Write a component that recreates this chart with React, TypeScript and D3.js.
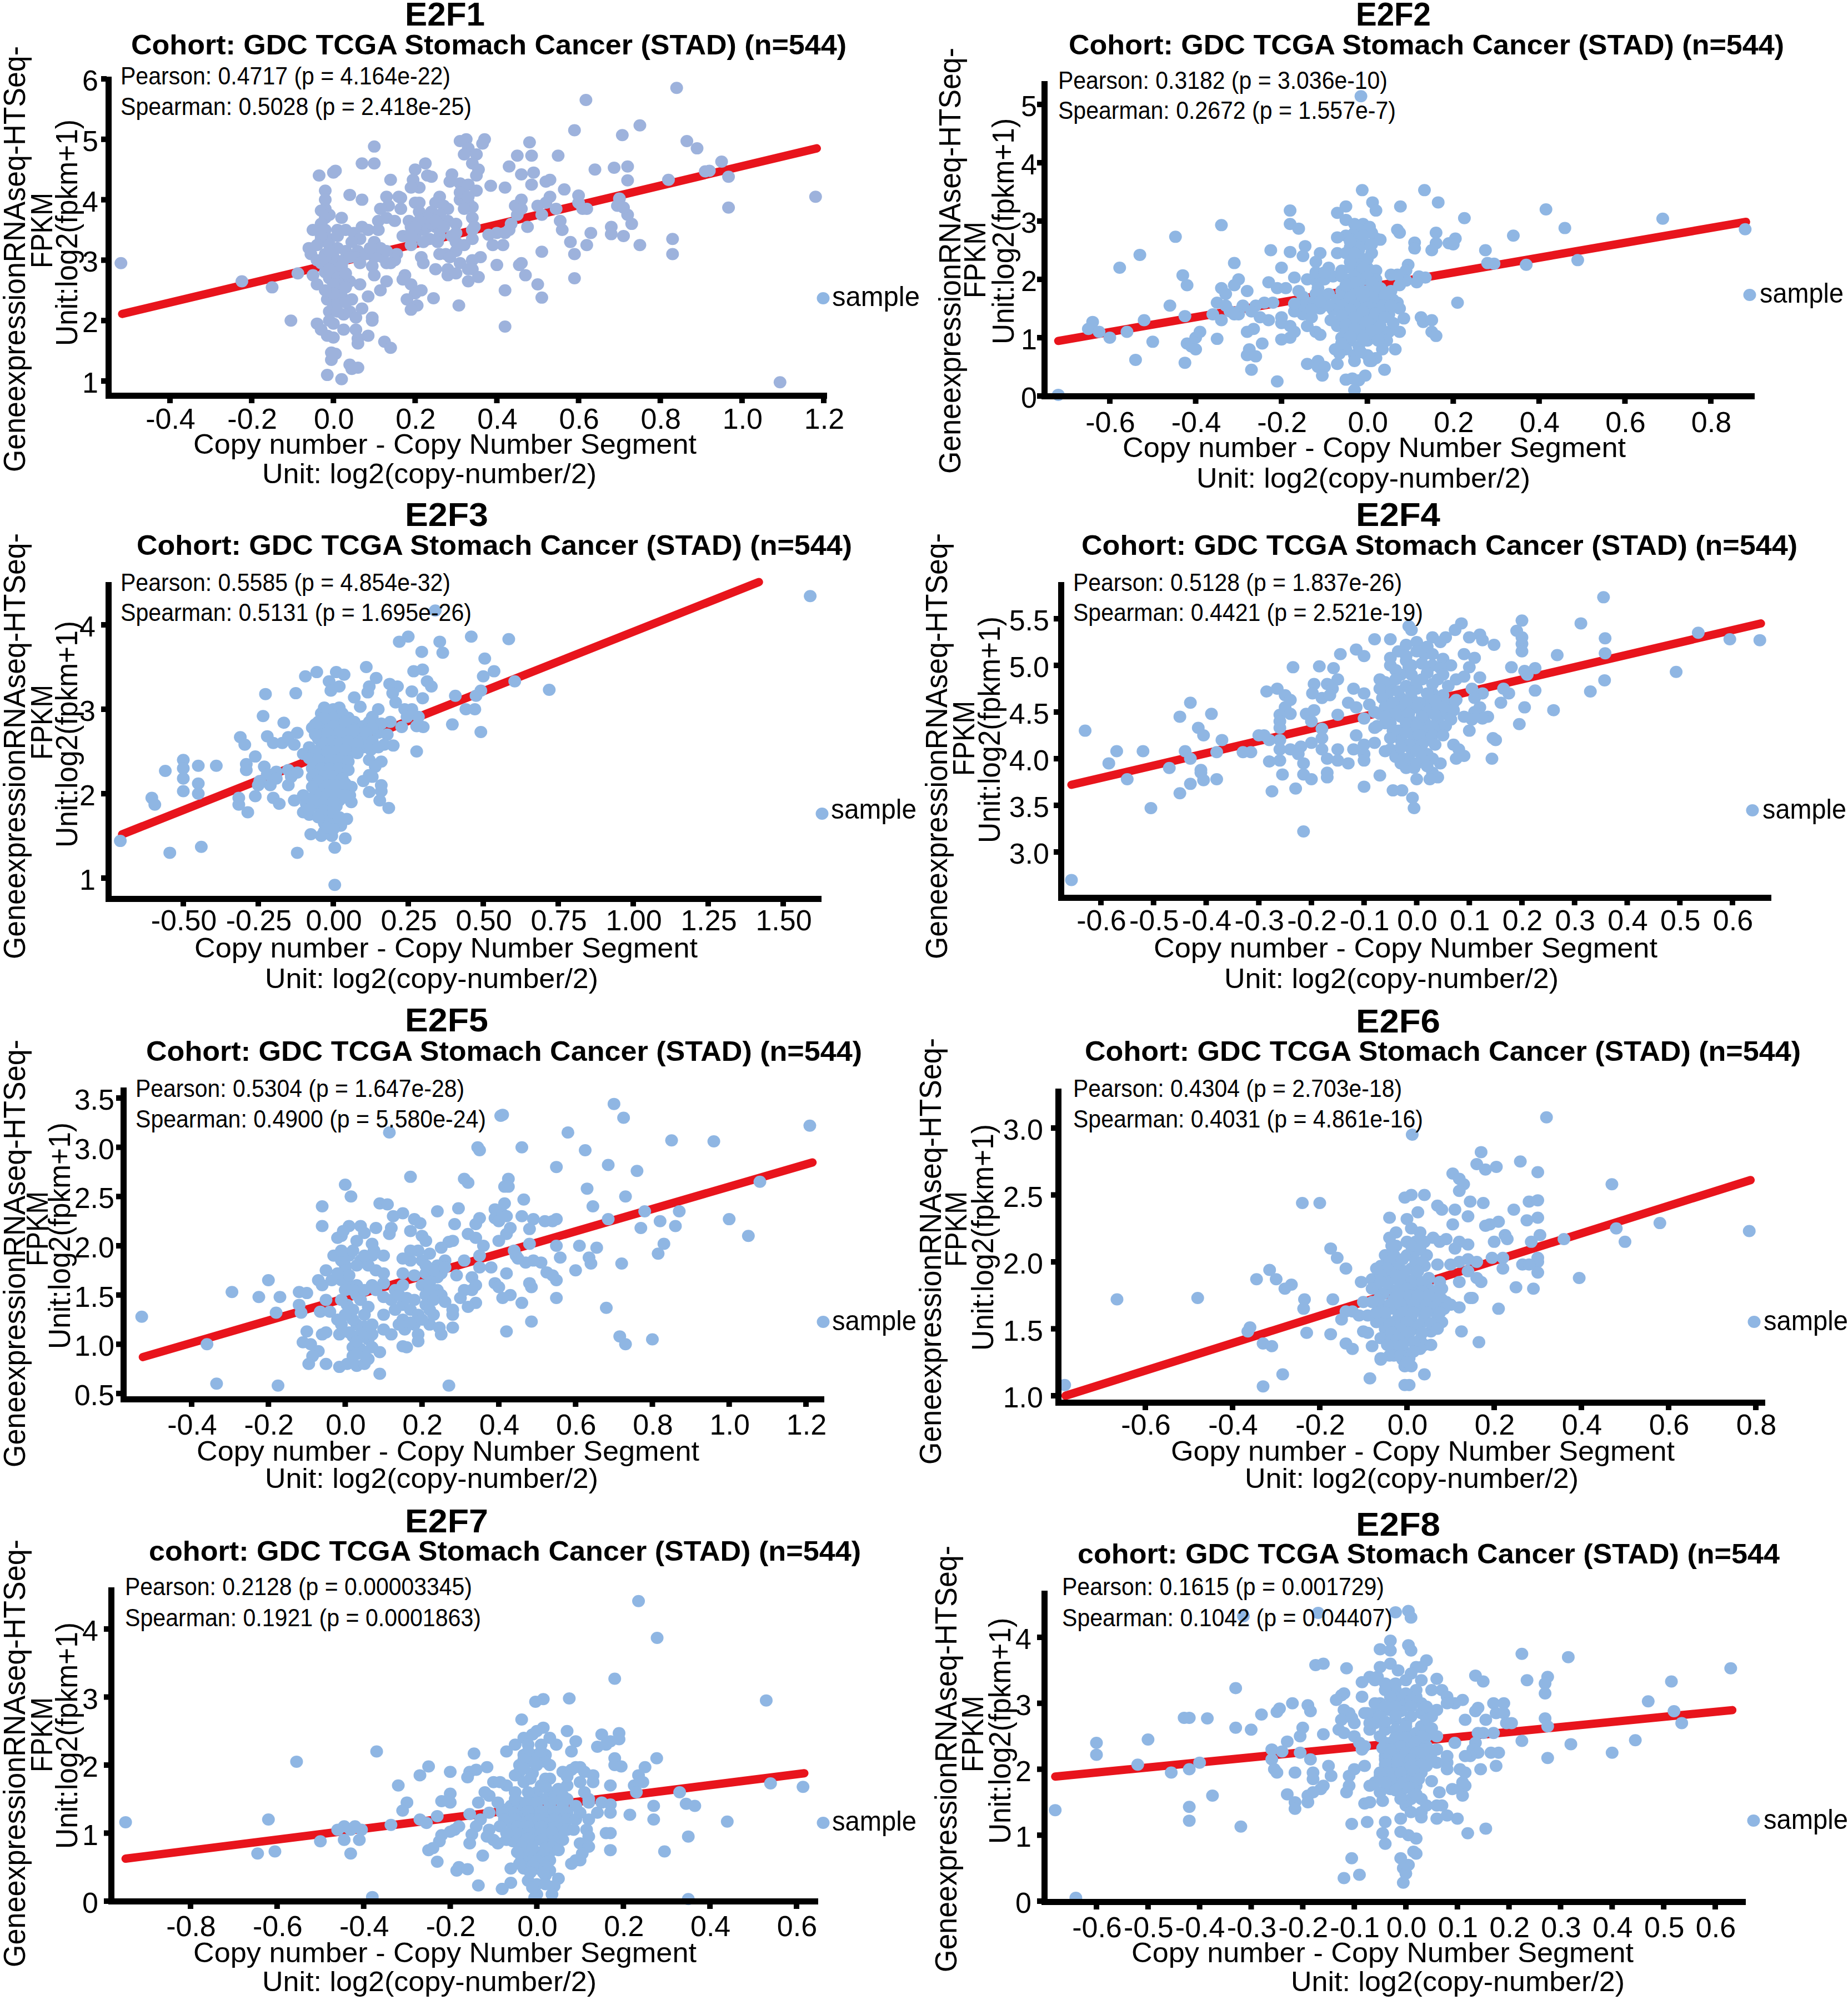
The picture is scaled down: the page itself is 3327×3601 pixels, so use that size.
import React from "react";
import * as d3 from "d3";

type Pt = number[];

const e2f1Points: Pt[] = [[-0.52,2.95],[-0.224,2.65],[-0.15,2.55],[-0.104,2.0],[-0.087,2.78],[1.093,0.98],[1.18,4.05],[0.84,5.85],[0.618,5.65],[0.59,5.15],[0.75,5.23],[0.707,5.07],[0.865,4.97],[0.89,4.85],[0.95,4.63],[0.92,4.48],[0.91,4.47],[0.967,4.38],[0.967,3.87],[0.82,4.33],[0.83,3.35],[0.83,3.1],[0.75,3.25],[0.73,3.6],[0.72,3.75],[0.70,4.02],[0.695,3.9],[0.71,3.87],[0.687,4.53],[0.71,3.4],[0.68,3.55],[0.68,3.43],[0.72,4.32],[0.72,4.55],[0.64,4.5],[0.62,3.85],[0.62,3.25],[0.63,3.45],[0.59,3.1],[0.59,2.7],[0.58,3.3],[0.56,3.5],[0.555,3.65],[0.565,4.17],[0.60,4.07],[0.60,3.95],[0.61,3.85],[0.55,4.73],[0.53,4.33],[0.52,4.3],[0.53,4.05],[0.545,3.85],[0.52,3.95],[0.51,3.75],[0.50,3.9],[0.51,3.14],[0.51,2.38],[0.50,2.6],[0.47,2.75],[0.46,2.95],[0.48,4.95],[0.485,4.73],[0.45,4.73],[0.43,4.55],[0.46,4.42],[0.49,4.45],[0.485,4.25],[0.42,4.2],[0.385,4.23],[0.46,4.0],[0.445,3.9],[0.46,3.85],[0.45,3.75],[0.435,3.6],[0.475,3.55],[0.43,3.5],[0.42,3.45],[0.40,3.45],[0.38,3.42],[0.415,3.25],[0.39,3.25],[0.36,3.05],[0.34,3.0],[0.40,2.92],[0.455,2.92],[0.31,4.97],[0.325,5.0],[0.37,5.0],[0.365,4.93],[0.33,4.85],[0.32,4.75],[0.35,4.75],[0.34,4.6],[0.355,4.5],[0.35,4.4],[0.29,4.42],[0.285,4.3],[0.31,4.27],[0.33,4.25],[0.35,4.15],[0.32,4.08],[0.31,4.0],[0.33,3.95],[0.34,3.88],[0.34,3.7],[0.345,3.55],[0.34,3.5],[0.2,4.5],[0.225,4.6],[0.195,4.33],[0.23,4.4],[0.24,4.38],[0.21,4.2],[0.19,4.2],[0.14,4.33],[0.13,4.05],[0.16,4.05],[0.165,4.03],[0.135,3.9],[0.165,3.85],[0.115,3.85],[0.11,3.65],[0.13,3.7],[0.15,3.65],[0.2,3.95],[0.21,3.95],[0.21,3.8],[0.26,4.05],[0.25,3.95],[0.27,3.9],[0.24,3.8],[0.23,3.7],[0.28,3.85],[0.22,3.6],[0.185,3.65],[0.19,3.55],[0.17,3.4],[0.18,3.4],[0.2,3.4],[0.25,3.55],[0.28,3.65],[0.3,3.6],[0.29,3.4],[0.26,3.4],[0.255,3.3],[0.22,3.5],[0.235,3.35],[0.3,3.3],[0.3,3.15],[0.32,3.25],[0.275,3.1],[0.26,3.1],[0.285,3.05],[0.31,2.95],[0.33,2.85],[0.34,2.85],[0.28,2.85],[0.28,2.75],[0.25,2.85],[0.3,2.78],[0.33,2.65],[0.355,2.72],[0.215,3.05],[0.22,2.95],[0.19,3.25],[0.155,3.1],[0.15,3.0],[0.14,2.95],[0.13,2.95],[0.12,3.05],[0.1,3.05],[0.095,2.9],[0.1,2.75],[0.13,2.65],[0.115,2.5],[0.085,2.4],[0.175,2.75],[0.17,2.68],[0.19,2.6],[0.2,2.45],[0.215,2.5],[0.18,2.35],[0.205,2.25],[0.19,2.18],[0.245,2.37],[0.307,2.25],[0.42,1.9],[0.42,2.5],[0.095,2.05],[0,4.45],[0.005,4.48],[-0.035,4.4],[-0.02,4.15],[0.04,4.08],[0.07,4.6],[0.1,4.6],[0.1,4.88],[0.07,4.0],[-0.02,4.0],[-0.02,3.85],[-0.03,3.82],[-0.01,3.75],[-0.02,3.7],[0.02,3.7],[-0.03,3.6],[-0.05,3.5],[-0.02,3.5],[-0.01,3.35],[-0.03,3.35],[0.01,3.5],[0.03,3.5],[0.05,3.45],[0.065,3.35],[0.07,3.55],[0.085,3.5],[0.11,3.5],[0.1,3.3],[0.115,3.2],[0.13,3.15],[-0.06,3.2],[-0.055,3.1],[-0.04,3.0],[-0.02,3.1],[-0.03,2.95],[0,3.05],[0.03,3.15],[0.06,3.15],[0.025,3.0],[0.055,3.05],[0.065,2.95],[-0.02,2.8],[-0.05,2.75],[-0.04,2.6],[-0.01,2.7],[0.01,2.75],[0.02,2.6],[0.04,2.65],[0.065,2.6],[0.01,2.5],[0.02,2.4],[-0.015,2.35],[0,2.25],[-0.01,2.15],[0.01,2.3],[0.045,2.35],[0.04,2.15],[0.025,2.1],[0.07,2.2],[0.055,2.05],[0.095,2.0],[0.0,1.95],[-0.04,1.95],[-0.03,1.85],[0.025,1.85],[0.055,1.85],[-0.015,1.75],[0,1.72],[0.06,1.7],[0.06,1.62],[0.085,1.75],[0.125,1.65],[0.14,1.55],[-0.005,1.47],[0.005,1.45],[-0.005,1.35],[0.04,1.27],[0.045,1.2],[0.06,1.22],[-0.015,1.1],[0.02,1.03],
[-0.03,3.4],[-0.01,3.25],[0.01,3.2],[-0.02,3.0],[0.0,2.9],[-0.01,3.15],[0.02,2.9],[0.045,3.3],[-0.04,3.25],[0.01,3.4],[0.04,3.05],[0.08,3.1],[0.09,3.2],[0.0,2.6],[0.0,2.45],[0.03,2.55],[0.03,2.3],[-0.02,2.5],[-0.01,2.0],[0.01,2.15],[0.22,3.3],[0.23,3.55],[0.21,3.65],[0.2,3.55],[0.24,3.6],[0.27,3.55],[0.26,3.75],[0.25,3.65],[0.19,3.4],[0.3,3.45],[0.32,3.85],[0.31,4.12],[0.33,4.05],[0.34,3.35],[-0.01,2.85],[0.03,2.78]];

const e2f2Points: Pt[] = [[-0.72,0.02],[-0.015,5.14],[-0.012,3.53],[0.133,3.53],[0.165,3.32],[0.012,3.32],[-0.05,3.25],[0.02,3.18],[0.077,3.25],[-0.07,3.14],[-0.18,3.18],[-0.05,3.02],[-0.18,2.95],[-0.16,2.87],[-0.34,2.93],[-0.447,2.73],[-0.53,2.42],[-0.577,2.2],[0.226,3.05],[0.416,3.2],[0.688,3.04],[0.46,2.88],[0.34,2.75],[0.88,2.86],[0.49,2.33],[0.37,2.25],[0.295,2.27],[0.28,2.28],[0.275,2.5],[0.21,1.6],[0.07,2.85],[0.075,2.8],[0.16,2.8],[0.16,2.62],[0.19,2.62],[0.205,2.7],[0.2,2.6],[0.11,2.63],[0.11,2.53],[0.15,2.5],[0.095,2.25],[0.09,2.15],[0.12,2.05],[0.135,2.03],[0.115,1.95],[0.09,1.98],[0.07,2.08],[0.055,2.08],[0.02,2.15],[0.075,1.9],[0.03,1.85],[0.055,1.8],[0.06,1.65],[0.07,1.6],[0.075,1.5],[0.04,1.5],[0.05,1.4],[0.085,1.33],[0.125,1.35],[0.13,1.27],[0.15,1.3],[0.15,1.1],[0.16,1.03],[0.075,1.1],[0.05,1.1],[0.03,1.05],[0.02,1.05],[0.06,1.25],[0.045,0.95],[0.035,0.8],[0.065,0.8],[0.02,0.65],[0.01,0.6],[0.04,0.45],[-0.01,2.95],[0.005,2.9],[-0.03,2.8],[-0.02,2.85],[0.01,2.8],[-0.05,2.75],[-0.07,2.72],[0.02,2.7],[0.03,2.68],[0.0,2.6],[-0.02,2.65],[-0.04,2.55],[-0.07,2.45],[-0.05,2.45],[-0.02,2.5],[0.01,2.45],[-0.01,2.35],[-0.03,2.35],[-0.02,2.25],[0,2.2],[-0.04,2.2],[-0.06,2.15],[-0.09,2.1],[-0.1,2.0],[-0.08,2.05],[-0.05,2.0],[-0.02,2.1],[-0.01,2.0],[0.02,2.0],[0.015,1.9],[-0.02,1.85],[-0.04,1.85],[-0.06,1.8],[-0.09,1.75],[-0.06,1.7],[-0.03,1.75],[0,1.8],[0.01,1.7],[-0.03,1.6],[0.01,1.6],[0.03,1.65],[-0.05,1.55],[-0.02,1.5],[0.02,1.5],[-0.05,1.45],[-0.02,1.4],[0.01,1.35],[-0.02,1.3],[0.02,1.3],[-0.04,1.3],[-0.06,1.25],[-0.085,1.3],[-0.07,1.2],[-0.02,1.2],[0,1.15],[-0.05,1.1],[-0.06,1.0],[-0.02,1.05],[0.0,0.95],[-0.04,0.95],[-0.02,0.85],[-0.05,0.8],[-0.075,0.8],[-0.065,0.73],[-0.03,0.7],[0,0.7],[0.005,0.6],[-0.03,0.6],[-0.035,0.3],[-0.05,0.28],[-0.02,0.27],[-0.005,0.35],[-0.03,0.1],[-0.07,0.55],[-0.2,2.2],[-0.225,2.5],[-0.18,2.47],[-0.145,2.57],[-0.15,2.4],[-0.11,2.45],[-0.12,2.3],[-0.09,2.2],[-0.06,2.05],[-0.17,2.03],[-0.14,2.0],[-0.12,1.98],[-0.115,1.85],[-0.23,1.95],[-0.21,1.85],[-0.19,1.85],[-0.16,1.8],[-0.15,1.7],[-0.13,1.6],[-0.115,1.65],[-0.11,1.5],[-0.14,1.5],[-0.17,1.45],[-0.15,1.4],[-0.13,1.35],[-0.2,1.35],[-0.2,1.25],[-0.18,1.2],[-0.14,1.2],[-0.12,1.1],[-0.11,1.05],[-0.17,1.1],[-0.18,1.0],[-0.2,0.97],[-0.22,1.6],[-0.24,1.6],[-0.26,1.55],[-0.27,1.45],[-0.29,1.55],[-0.3,1.45],[-0.25,1.35],[-0.23,1.3],[-0.265,1.15],[-0.28,1.1],[-0.245,0.9],[-0.275,0.8],[-0.28,0.7],[-0.27,0.45],[-0.26,0.68],[-0.21,0.25],[-0.14,0.55],[-0.115,0.6],[-0.115,0.5],[-0.1,0.5],[-0.105,0.35],[-0.43,2.07],[-0.42,1.9],[-0.31,2.28],[-0.3,2.0],[-0.31,1.9],[-0.34,1.85],[-0.28,1.8],[-0.33,1.75],[-0.35,1.6],[-0.3,1.4],[-0.33,1.55],[-0.32,1.45],[-0.36,1.4],[-0.34,1.3],[-0.31,1.4],[-0.46,1.55],[-0.425,1.37],[-0.52,1.3],[-0.64,1.27],[-0.65,1.15],[-0.625,1.1],[-0.6,1.0],[-0.56,1.1],[-0.5,0.93],[-0.42,0.9],[-0.41,0.85],[-0.4,1.0],[-0.39,1.1],[-0.35,0.98],[-0.4,0.8],[-0.54,0.62],[-0.425,0.57],
[-0.03,2.95],[-0.04,2.65],[-0.01,2.75],[0.01,2.6],[-0.03,2.45],[0.0,2.35],[-0.04,2.3],[-0.01,2.18],[-0.03,2.05],[0.0,2.05],[0.01,1.95],[-0.03,1.95],[-0.05,1.9],[-0.02,1.78],[0.02,1.8],[-0.07,1.65],[-0.04,1.68],[-0.01,1.63],[0.02,1.7],[0.04,1.72],[-0.06,1.55],[-0.03,1.55],[0.0,1.52],[0.035,1.55],[0.055,1.55],[-0.08,1.48],[-0.04,1.48],[-0.01,1.45],[0.02,1.42],[0.04,1.35],[-0.06,1.38],[-0.03,1.35],[0.0,1.28],[0.03,1.2],[-0.05,1.22],[-0.03,1.15],[0.01,1.12],[-0.04,1.02],[-0.01,0.98],[0.025,0.95],[-0.06,0.9],[-0.015,0.75],[-0.1,1.7],[-0.12,1.75],[-0.09,1.55],[-0.11,1.62],[-0.12,2.12],[-0.1,2.12],[-0.15,1.55],[-0.17,1.58],[-0.13,1.48]];

const e2f3Points: Pt[] = [[1.59,4.34],[0.34,4.17],[0.25,3.86],[0.22,3.8],[0.355,3.8],[0.46,3.86],[0.585,3.83],[0.295,3.68],[0.365,3.67],[0.505,3.6],[0.536,3.45],[0.268,3.45],[0.298,3.47],[0.5,3.39],[0.605,3.33],[0.72,3.23],[0.492,3.22],[0.476,3.16],[0.407,3.16],[0.313,3.33],[0.327,3.27],[0.298,3.13],[0.262,3.21],[0.442,3.0],[0.472,3.0],[0.397,2.82],[0.492,2.73],[0.278,2.5],[0.3,2.79],[0.278,2.8],[0.284,2.91],[0.262,3.0],[0.238,3.0],[0.246,2.91],[0.228,2.79],[0.11,3.5],[0.143,3.37],[0.188,3.3],[0.214,3.27],[0.198,3.19],[0.208,3.08],[0.12,3.27],[0.115,3.2],[0.07,3.14],[0.09,3.03],[0.15,3.0],[0.13,2.91],[0.19,2.85],[0.16,2.83],[-0.055,3.44],[-0.093,3.39],[0.01,3.44],[0.036,3.41],[-0.014,3.33],[0.02,3.27],[-0.008,3.22],[-0.125,3.19],[-0.226,3.18],[-0.234,2.92],[-0.165,2.84],[-0.12,2.72],[0.0,3.0],[-0.03,3.02],[0.02,3.02],[-0.04,2.95],[-0.01,2.95],[0.02,2.9],[0.05,2.9],[-0.05,2.85],[-0.02,2.85],[0.01,2.85],[0.07,2.85],[-0.07,2.78],[-0.04,2.75],[-0.01,2.78],[0.03,2.78],[0.06,2.78],[0.1,2.8],[0.12,2.85],[0.15,2.72],[0.18,2.7],[-0.05,2.65],[-0.02,2.65],[0.01,2.68],[0.04,2.68],[0.08,2.68],[0.11,2.65],[0.17,2.58],[0.2,2.57],[-0.08,2.55],[-0.04,2.55],[-0.01,2.55],[0.03,2.58],[0.06,2.58],[0.1,2.55],[0.125,2.52],[-0.1,2.47],[-0.07,2.45],[-0.03,2.45],[0.0,2.45],[0.03,2.45],[0.05,2.47],[-0.06,2.35],[-0.03,2.35],[0.0,2.35],[0.04,2.35],[-0.05,2.25],[-0.02,2.25],[0.01,2.25],[0.03,2.25],[-0.07,2.2],[-0.04,2.12],[-0.01,2.15],[0.02,2.15],[-0.06,2.05],[-0.03,2.05],[0.0,2.05],[0.03,2.05],[0.055,1.98],[0.06,1.9],[-0.1,1.98],[-0.07,1.95],[-0.04,1.95],[-0.01,1.95],[0.02,1.92],[-0.09,1.88],[-0.05,1.85],[-0.02,1.85],[0.01,1.85],[-0.1,1.78],[-0.08,1.75],[-0.04,1.78],[-0.02,1.75],[-0.03,1.65],[-0.01,1.65],[0.01,1.68],[0.045,1.7],[0.025,1.62],[-0.03,1.55],[-0.075,1.52],[-0.04,1.5],[-0.005,1.5],[0.04,1.47],[0.005,1.36],[-0.12,1.3],[0.005,0.92],[0.12,2.4],[0.16,2.38],[0.14,2.32],[0.12,2.22],[0.13,2.2],[0.1,2.15],[0.16,2.1],[0.16,2.03],[0.12,2.02],[0.155,1.92],[0.185,1.83],[0.06,2.08],[-0.31,2.67],[-0.295,2.58],[-0.22,2.68],[-0.2,2.6],[-0.17,2.6],[-0.15,2.67],[-0.13,2.58],[-0.26,2.44],[-0.29,2.35],[-0.29,2.28],[-0.23,2.32],[-0.22,2.23],[-0.19,2.26],[-0.19,2.18],[-0.15,2.28],[-0.14,2.2],[-0.12,2.25],[-0.21,2.1],[-0.15,2.1],[-0.245,2.15],[-0.25,2.1],[-0.26,1.97],[-0.2,1.95],[-0.18,1.88],[-0.13,1.92],[-0.315,1.95],[-0.315,1.87],[-0.285,1.78],[-0.45,2.33],[-0.39,2.33],[-0.5,2.4],[-0.5,2.3],[-0.56,2.27],[-0.5,2.18],[-0.45,2.12],[-0.5,2.03],[-0.45,2.0],[-0.605,1.95],[-0.595,1.87],[-0.71,1.44],[-0.545,1.3],[-0.44,1.37],
[-0.02,2.98],[0.03,2.95],[0.0,2.9],[-0.03,2.9],[0.04,2.85],[-0.06,2.82],[0.0,2.8],[-0.02,2.72],[0.02,2.72],[0.05,2.72],[-0.06,2.7],[-0.03,2.6],[0.0,2.62],[0.02,2.6],[0.05,2.62],[0.08,2.6],[-0.06,2.5],[-0.02,2.5],[0.01,2.5],[0.04,2.52],[0.08,2.48],[-0.08,2.42],[-0.05,2.4],[-0.01,2.4],[0.02,2.4],[0.05,2.38],[-0.07,2.3],[-0.04,2.3],[-0.01,2.3],[0.02,2.3],[0.05,2.28],[-0.06,2.22],[-0.03,2.2],[0.0,2.2],[0.03,2.18],[-0.05,2.15],[-0.02,2.1],[0.01,2.1],[0.04,2.12],[-0.07,2.08],[-0.04,2.0],[-0.02,2.0],[0.01,2.0],[0.04,1.98],[-0.06,1.92],[-0.03,1.9],[0.0,1.9],[-0.08,1.82],[-0.03,1.8],[0.0,1.78],[-0.05,1.72],[0.02,1.72],[-0.02,1.6],[0.0,1.58],[0.09,2.72],[0.13,2.78],[0.07,2.75],[0.11,2.72],[0.13,2.62],[0.15,2.55]];

const e2f4Points: Pt[] = [[-0.656,2.7],[-0.63,4.3],[-0.505,3.47],[-0.215,3.22],[0.355,5.73],[0.535,5.35],[0.595,5.28],[0.652,5.27],[0.493,4.93],[0.358,5.29],[0.358,5.13],[0.357,4.84],[0.33,4.72],[0.312,5.45],[0.267,5.11],[0.26,4.52],[0.2,5.48],[0.19,5.37],[0.2,5.23],[0.2,5.15],[0.2,5.3],[0.205,4.94],[0.21,4.9],[0.225,4.97],[0.225,4.73],[0.18,4.98],[0.165,4.75],[0.175,4.7],[0.16,4.6],[0.205,4.55],[0.195,4.37],[0.12,5.33],[0.1,5.3],[0.085,5.45],[0.073,5.38],[0.055,5.3],[0.125,5.27],[0.147,5.22],[0.09,5.12],[0.11,5.08],[0.05,5.07],[0.065,5.0],[0.1,4.98],[0.09,4.88],[0.12,4.87],[0.075,4.85],[0.105,4.75],[0.125,4.7],[0.11,4.65],[0.075,4.63],[0.12,4.55],[0.11,4.5],[0.09,4.45],[0.135,4.45],[0.105,4.42],[0.125,4.43],[0.1,4.3],[0.145,4.22],[0.15,4.2],[0.143,4.0],[0.07,4.15],[0.08,4.1],[0.09,4.03],[0.075,4.0],[0.045,3.95],[0.03,3.85],[0.04,3.8],[0.025,3.78],[-0.015,5.42],[-0.01,5.38],[0.03,5.3],[0.0,5.25],[-0.02,5.22],[0.02,5.2],[0.045,5.25],[-0.035,5.15],[0.015,5.12],[-0.05,5.0],[-0.02,5.05],[-0.015,4.98],[0.03,5.0],[0.045,4.97],[-0.07,4.85],[-0.03,4.9],[0.01,4.85],[0.04,4.85],[-0.05,4.78],[-0.02,4.78],[0.0,4.75],[0.03,4.7],[-0.055,4.7],[-0.03,4.65],[-0.01,4.65],[0.02,4.6],[0.05,4.68],[0.07,4.6],[-0.04,4.55],[-0.015,4.55],[0.01,4.5],[0.03,4.55],[0.055,4.48],[-0.05,4.45],[-0.03,4.45],[-0.01,4.4],[0.015,4.4],[0.04,4.4],[-0.06,4.38],[-0.035,4.3],[-0.01,4.3],[0.02,4.3],[0.04,4.3],[-0.03,4.2],[-0.005,4.2],[0.02,4.2],[-0.01,4.1],[0.02,4.05],[-0.05,4.1],[-0.06,4.08],[-0.04,4.02],[-0.015,4.0],[0.01,4.0],[-0.02,3.9],[-0.005,3.9],[0.0,3.78],[-0.045,3.66],[-0.028,3.66],[-0.008,3.58],[-0.005,3.47],[-0.08,5.28],[-0.05,5.28],[-0.115,5.17],[-0.145,5.12],[-0.1,5.1],[-0.235,4.98],[-0.185,4.99],[-0.158,4.97],[-0.15,4.85],[-0.17,4.8],[-0.16,4.75],[-0.195,4.8],[-0.198,4.7],[-0.265,4.75],[-0.285,4.72],[-0.25,4.68],[-0.24,4.63],[-0.18,4.65],[-0.165,4.68],[-0.12,4.75],[-0.1,4.7],[-0.13,4.6],[-0.115,4.55],[-0.09,4.58],[-0.25,4.55],[-0.26,4.47],[-0.24,4.48],[-0.21,4.48],[-0.195,4.52],[-0.2,4.4],[-0.15,4.47],[-0.1,4.43],[-0.18,4.32],[-0.26,4.4],[-0.26,4.33],[-0.29,4.25],[-0.26,4.2],[-0.28,4.2],[-0.08,4.33],[-0.115,4.25],[-0.1,4.15],[-0.08,4.17],[-0.2,4.17],[-0.18,4.22],[-0.22,4.13],[-0.24,4.1],[-0.26,4.1],[-0.225,4.05],[-0.18,4.1],[-0.15,4.1],[-0.12,4.1],[-0.1,4.05],[-0.17,4.0],[-0.15,3.98],[-0.26,3.98],[-0.28,3.97],[-0.1,3.98],[-0.13,3.95],[-0.215,3.95],[-0.255,3.83],[-0.215,3.83],[-0.17,3.85],[-0.17,3.8],[-0.07,3.82],[-0.1,3.7],[-0.2,3.78],[-0.275,3.65],[-0.23,3.68],[-0.43,4.6],[-0.45,4.45],[-0.39,4.48],[-0.415,4.33],[-0.405,4.25],[-0.37,4.2],[-0.44,4.08],[-0.43,4.0],[-0.38,4.07],[-0.57,4.08],[-0.52,4.08],[-0.585,3.95],[-0.47,3.9],[-0.41,3.88],[-0.41,3.85],[-0.55,3.78],[-0.405,3.77],[-0.38,3.78],[-0.43,3.73],[-0.45,3.63],[-0.33,4.07],[-0.315,4.07],[-0.3,4.25],
[-0.02,5.1],[0.0,5.15],[0.03,5.12],[-0.05,5.08],[-0.01,5.0],[0.01,5.02],[-0.04,4.95],[-0.01,4.9],[0.02,4.92],[0.05,4.9],[-0.06,4.82],[-0.04,4.85],[0.0,4.82],[0.03,4.8],[0.06,4.78],[-0.07,4.75],[-0.035,4.72],[-0.01,4.72],[0.02,4.7],[0.05,4.62],[-0.065,4.65],[-0.045,4.6],[-0.02,4.6],[0.005,4.6],[0.035,4.62],[-0.06,4.55],[-0.03,4.52],[0.0,4.55],[0.02,4.5],[0.05,4.55],[0.07,4.52],[-0.07,4.48],[-0.04,4.48],[-0.015,4.48],[0.01,4.45],[0.035,4.47],[0.065,4.42],[-0.05,4.38],[-0.02,4.38],[0.0,4.35],[0.03,4.35],[0.055,4.35],[-0.045,4.3],[-0.02,4.28],[0.005,4.25],[0.03,4.25],[0.05,4.25],[-0.05,4.22],[-0.015,4.15],[0.01,4.15],[0.035,4.15],[-0.03,4.12],[0.0,4.08],[0.03,4.0],[-0.025,4.0],[-0.03,3.95],[0.0,3.95],[0.02,3.92],[-0.06,4.45],[-0.075,4.35],[-0.08,4.5]];

const e2f5Points: Pt[] = [[-0.53,1.28],[-0.36,1.0],[-0.335,0.6],[-0.175,0.58],[0.27,0.58],[0.09,0.7],[0.7,3.44],[0.725,3.3],[0.405,3.32],[0.41,3.33],[0.115,3.15],[0.58,3.15],[0.85,3.07],[0.96,3.06],[1.21,3.22],[0.345,3.0],[0.35,2.97],[0.46,3.0],[0.625,2.97],[0.55,2.8],[0.685,2.82],[0.76,2.76],[1.08,2.65],[0.17,2.7],[0.31,2.68],[0.32,2.64],[0.425,2.68],[0.415,2.6],[0.425,2.6],[0.63,2.58],[0.73,2.5],[0.645,2.4],[0.465,2.47],[0.415,2.43],[0.0,2.62],[0.015,2.5],[0.09,2.43],[0.11,2.42],[-0.06,2.4],[-0.06,2.2],[0.24,2.35],[0.295,2.38],[0.15,2.33],[0.125,2.3],[0.39,2.37],[0.35,2.28],[0.34,2.22],[0.285,2.22],[0.18,2.27],[0.195,2.23],[0.12,2.18],[0.115,2.12],[0.17,2.15],[0.2,2.1],[0.21,2.05],[0.28,2.05],[0.27,2.04],[0.32,2.12],[0.34,2.08],[0.36,2.0],[0.39,2.28],[0.4,2.25],[0.41,2.32],[0.42,2.3],[0.46,2.3],[0.49,2.27],[0.48,2.17],[0.43,2.18],[0.42,2.12],[0.4,2.05],[0.48,2.02],[0.54,2.25],[0.55,2.27],[0.52,2.25],[0.685,2.27],[0.77,2.18],[0.78,2.35],[0.82,2.25],[0.87,2.35],[0.86,2.2],[1.0,2.27],[1.05,2.1],[0.83,2.02],[0.815,1.92],[0.61,2.0],[0.655,1.98],[0.55,2.0],[0.56,1.88],[0.635,1.88],[0.64,1.82],[0.72,1.82],[0.6,1.75],[0.525,1.73],[0.51,1.83],[0.49,1.85],[0.47,1.83],[0.45,1.87],[0.445,1.9],[0.44,1.95],[0.55,1.65],[0.54,1.7],[0.48,1.62],[0.485,1.58],[0.46,1.42],[0.55,1.47],[0.485,1.23],[0.68,1.37],[0.42,1.13],[0.715,1.08],[0.73,1.0],[0.8,1.05],[0.42,1.72],[0.39,1.62],[0.4,1.58],[0.43,1.5],[0.41,1.47],[0.35,1.78],[0.38,1.78],[0.33,1.68],[0.34,1.6],[0.29,1.7],[0.33,1.55],[0.31,1.55],[0.3,1.47],[0.34,1.42],[0.32,1.38],[0.35,1.9],[0.31,1.85],[0.25,1.98],[0.22,1.92],[0.26,1.85],[0.24,1.8],[0.2,1.85],[0.17,1.85],[0.15,1.87],[0.1,1.9],[0.075,1.95],[0.07,1.9],[0.04,2.2],[0.05,2.13],[0.08,2.18],[0.07,2.02],[0.03,2.05],[0.04,1.85],[-0.03,1.9],[-0.01,2.1],[-0.02,2.08],[0.01,2.2],[-0.005,2.15],[-0.01,1.85],[0.0,1.8],[0.03,1.8],[0.06,1.8],[-0.05,1.75],[-0.07,1.65],[-0.06,1.6],[-0.035,1.65],[-0.01,1.65],[0.01,1.6],[0.03,1.6],[0.07,1.6],[0.1,1.62],[0.13,1.55],[0.15,1.6],[0.15,1.72],[0.18,1.7],[0.21,1.72],[0.22,1.63],[0.24,1.68],[0.24,1.55],[0.21,1.5],[0.25,1.5],[0.26,1.43],[0.28,1.3],[0.28,1.35],[-0.2,1.65],[-0.295,1.53],[-0.225,1.48],[-0.17,1.48],[-0.12,1.53],[-0.1,1.52],[-0.12,1.4],[-0.115,1.32],[-0.18,1.32],[-0.05,1.45],[-0.065,1.33],[-0.04,1.33],[0.0,1.55],[0.005,1.4],[0.02,1.35],[0.04,1.45],[0.06,1.38],[0.1,1.48],[0.12,1.45],[0.13,1.35],[0.1,1.3],[0.15,1.4],[0.17,1.35],[0.15,1.25],[0.21,1.4],[0.19,1.3],[0.18,1.2],[0.23,1.3],[0.22,1.2],[0.245,1.17],[0.25,1.1],[0.28,1.17],[0.19,1.1],[0.155,1.15],[0.19,1.03],[0.12,1.1],[0.1,1.15],[0.07,1.2],[0.05,1.18],[0.03,1.2],[-0.01,1.2],[-0.015,1.1],[-0.05,1.12],[-0.06,1.1],[-0.1,1.13],[-0.11,1.02],[-0.09,1.0],[0.02,1.08],[0.06,1.05],[0.02,0.97],[0.04,0.95],[0.07,0.97],[0.09,0.92],[0.15,0.98],[0.16,0.97],[-0.07,0.93],[-0.085,0.88],[-0.095,0.8],[-0.05,0.8],[-0.015,0.77],[0.005,0.8],[0.03,0.78],[0.05,0.8],[0.06,0.85],[0.02,0.88],
[0.0,1.75],[0.01,1.7],[-0.02,1.72],[0.02,1.55],[-0.01,1.45],[0.03,1.5],[0.05,1.55],[0.08,1.55],[0.02,1.25],[0.01,1.12],[0.05,1.3],[0.04,1.1],[0.07,1.1],[0.03,1.03],[0.14,1.5],[0.16,1.47],[0.18,1.45],[0.2,1.6],[0.22,1.55],[0.23,1.45],[0.17,1.22],[0.14,1.2],[0.2,1.25],[0.22,1.35],[0.25,1.72],[0.23,1.75],[0.26,1.78],[0.21,1.8],[0.19,1.95],[0.17,1.95],[0.0,1.3],[-0.02,1.25],[0.05,0.9],[0.03,0.9],[0.01,1.9],[0.02,1.95],[0.05,1.9],[-0.01,1.95],[0.08,1.75],[0.1,1.72]];

const e2f6Points: Pt[] = [[-0.785,1.08],[-0.665,1.72],[-0.48,1.73],[-0.33,1.07],[-0.285,1.16],[-0.085,1.13],[-0.005,1.08],[0.005,1.08],[0.04,1.16],[0.32,3.08],[0.012,2.95],[0.17,2.82],[0.16,2.73],[0.18,2.69],[0.205,2.71],[0.26,2.75],[0.3,2.67],[0.105,2.66],[0.12,2.62],[0.13,2.58],[0.12,2.53],[0.04,2.5],[0.01,2.5],[-0.005,2.48],[0.145,2.45],[0.175,2.44],[0.28,2.45],[0.3,2.46],[0.245,2.39],[0.11,2.39],[0.07,2.42],[0.08,2.39],[0.025,2.37],[-0.24,2.44],[-0.2,2.44],[0.47,2.58],[0.58,2.29],[0.785,2.23],[0.48,2.25],[0.5,2.15],[0.36,2.17],[0.395,1.88],[0.3,2.33],[0.275,2.31],[0.14,2.34],[0.105,2.28],[0.21,2.3],[0.19,2.28],[0.18,2.27],[0.0,2.32],[0.01,2.25],[-0.04,2.33],[-0.025,2.22],[0.03,2.22],[0.06,2.18],[0.04,2.15],[0.075,2.15],[0.09,2.17],[0.12,2.15],[0.14,2.13],[0.11,2.1],[0.2,2.15],[0.225,2.2],[0.23,2.17],[0.285,2.15],[0.305,2.2],[0.3,2.03],[0.3,2.0],[0.3,1.92],[0.265,1.98],[0.28,1.98],[0.22,2.03],[0.195,2.03],[0.22,1.95],[0.16,2.0],[0.14,2.02],[0.12,2.0],[0.1,1.98],[0.07,1.98],[0.14,1.93],[0.16,1.88],[0.17,1.85],[0.12,1.85],[0.25,1.81],[0.29,1.8],[0.15,1.73],[0.145,1.73],[0.21,1.65],[0.12,1.66],[0.1,1.68],[0.125,1.48],[0.165,1.4],[-0.04,2.18],[-0.025,2.12],[0.0,2.15],[0.02,2.15],[-0.05,2.05],[-0.03,2.05],[0.0,2.05],[0.02,2.08],[0.045,2.05],[-0.06,1.97],[-0.02,1.97],[0.01,1.95],[0.04,1.97],[-0.05,1.88],[-0.03,1.88],[-0.005,1.88],[0.02,1.88],[0.05,1.88],[0.075,1.85],[-0.07,1.8],[-0.04,1.8],[-0.01,1.8],[0.02,1.8],[0.05,1.8],[0.08,1.8],[-0.03,1.72],[0.0,1.72],[0.03,1.72],[0.06,1.72],[0.08,1.72],[-0.06,1.65],[-0.03,1.65],[0.0,1.65],[0.03,1.65],[0.06,1.65],[-0.05,1.58],[-0.02,1.58],[0.01,1.58],[0.04,1.58],[0.07,1.58],[0.08,1.55],[-0.07,1.55],[-0.01,1.5],[0.02,1.5],[-0.05,1.5],[0.055,1.48],[-0.03,1.42],[0.0,1.42],[0.03,1.42],[0.04,1.38],[0.055,1.38],[-0.055,1.43],[-0.025,1.35],[0.0,1.32],[0.03,1.35],[-0.04,1.3],[-0.01,1.27],[-0.06,1.28],[-0.005,1.22],[0.01,1.22],[-0.175,2.1],[-0.16,2.03],[-0.14,1.95],[-0.315,1.94],[-0.345,1.87],[-0.3,1.87],[-0.28,1.8],[-0.265,1.83],[-0.235,1.72],[-0.237,1.65],[-0.17,1.72],[-0.1,1.7],[-0.105,1.85],[-0.08,1.87],[-0.08,1.8],[-0.05,1.95],[-0.14,1.63],[-0.125,1.63],[-0.15,1.57],[-0.11,1.6],[-0.09,1.6],[-0.1,1.48],[-0.09,1.47],[-0.23,1.47],[-0.175,1.46],[-0.365,1.48],[-0.36,1.51],[-0.33,1.39],[-0.31,1.37],[-0.14,1.39],[-0.125,1.35],[-0.08,1.37],[-0.06,1.43],[-0.06,1.27],
[-0.035,2.12],[0.01,2.12],[0.03,2.1],[-0.04,2.0],[-0.01,2.02],[0.02,2.0],[0.035,2.0],[-0.045,1.95],[-0.005,1.93],[0.025,1.93],[-0.06,1.9],[-0.025,1.9],[0.01,1.85],[0.035,1.85],[-0.045,1.84],[-0.015,1.83],[0.0,1.8],[0.035,1.78],[0.065,1.78],[-0.055,1.76],[-0.02,1.76],[0.005,1.75],[0.025,1.75],[0.05,1.75],[-0.04,1.68],[-0.015,1.68],[0.015,1.68],[0.045,1.68],[0.07,1.68],[-0.05,1.62],[-0.01,1.62],[0.015,1.62],[0.045,1.62],[-0.03,1.55],[0.0,1.55],[0.03,1.53],[0.055,1.54],[-0.04,1.53],[-0.015,1.5],[0.005,1.47],[0.035,1.47],[-0.035,1.47],[-0.02,1.43],[0.015,1.4],[-0.045,1.38],[-0.01,1.38],[0.015,1.33],[-0.03,1.3],[-0.015,1.3],[0.005,1.28],[0.0,1.25],[0.09,1.7],[0.085,1.65],[0.075,1.62],[0.07,1.5],[-0.065,1.72],[-0.07,1.62],[-0.08,1.7],[-0.06,1.85],[-0.07,1.95]];

const e2f7Points: Pt[] = [[-0.95,1.16],[-0.62,1.2],[-0.555,2.05],[-0.37,2.2],[-0.645,0.7],[-0.605,0.73],[-0.5,0.88],[-0.38,0.06],[0.35,0.03],[0.235,4.41],[0.278,3.87],[0.18,3.27],[0.53,2.95],[0.075,2.98],[0.015,2.97],[-0.003,2.93],[-0.035,2.67],[0.015,2.55],[0.07,2.5],[0.15,2.45],[0.17,2.35],[0.19,2.47],[0.19,2.38],[0.14,2.27],[0.16,2.3],[0.09,2.35],[0.08,2.2],[0.18,2.1],[0.18,2.0],[0.195,1.98],[0.25,1.97],[0.277,2.1],[0.54,1.73],[0.615,1.68],[0.33,1.6],[0.345,1.43],[0.365,1.4],[0.44,1.17],[0.35,0.95],[0.295,0.73],[0.27,1.2],[0.27,1.4],[0.215,1.27],[0.235,1.85],[0.225,1.7],[0.245,1.75],[0.23,1.6],[0.17,1.7],[-0.01,2.45],[0.0,2.5],[-0.03,2.4],[0.03,2.4],[-0.05,2.3],[-0.02,2.3],[0.01,2.3],[0.045,2.3],[-0.03,2.15],[0.0,2.15],[0.02,2.15],[-0.04,2.0],[-0.01,2.05],[0.02,2.05],[-0.04,1.9],[-0.01,1.88],[-0.05,1.85],[0.03,1.8],[-0.07,1.7],[-0.03,1.75],[0.0,1.6],[0.03,1.6],[0.05,1.65],[0.07,1.7],[-0.04,1.45],[-0.01,1.5],[0.02,1.5],[-0.06,1.4],[-0.03,1.35],[0.0,1.38],[0.03,1.4],[0.06,1.4],[0.09,1.4],[-0.04,1.25],[-0.01,1.25],[0.02,1.25],[0.05,1.25],[0.07,1.3],[-0.06,1.15],[-0.03,1.15],[0.0,1.15],[0.03,1.15],[0.06,1.12],[-0.04,1.05],[-0.01,1.05],[0.02,1.05],[0.05,1.0],[-0.06,0.95],[-0.03,0.95],[0.0,0.95],[0.03,0.95],[0.06,0.9],[-0.04,0.85],[-0.01,0.85],[0.02,0.85],[-0.03,0.72],[0.0,0.72],[0.03,0.72],[-0.02,0.6],[0.01,0.6],[-0.06,0.48],[-0.03,0.48],[0.0,0.48],[0.03,0.45],[0.02,0.38],[-0.02,0.3],[0.0,0.25],[-0.06,0.27],[-0.08,0.18],[0.05,0.33],[0.04,0.22],[0.0,0.1],[-0.005,0.05],[0.035,0.1],[0.06,1.9],[0.08,1.93],[0.09,1.97],[0.1,1.97],[0.11,1.9],[0.13,1.85],[0.13,1.75],[0.1,1.75],[0.07,1.83],[0.02,1.8],[0.11,1.6],[0.12,1.5],[0.12,1.45],[0.15,1.45],[0.17,1.42],[0.17,1.3],[0.14,1.3],[0.12,1.2],[0.115,1.05],[0.12,0.95],[0.1,0.85],[0.12,0.8],[0.16,1.0],[0.17,1.0],[0.17,0.75],[0.105,0.7],[0.1,0.6],[0.09,0.6],[0.08,0.55],[-0.145,2.17],[-0.07,2.2],[-0.115,1.97],[-0.14,1.93],[-0.155,1.9],[-0.25,1.98],[-0.27,1.85],[-0.2,1.9],[-0.16,1.82],[-0.32,1.7],[-0.1,1.75],[-0.085,1.75],[-0.11,1.55],[-0.12,1.6],[-0.2,1.58],[-0.2,1.45],[-0.22,1.47],[-0.3,1.45],[-0.31,1.33],[-0.135,1.45],[-0.08,1.35],[-0.11,1.3],[-0.155,1.28],[-0.23,1.25],[-0.27,1.2],[-0.255,1.15],[-0.13,1.2],[-0.14,1.1],[-0.18,1.1],[-0.19,1.05],[-0.2,1.02],[-0.11,1.05],[-0.115,0.95],[-0.1,0.9],[-0.09,0.85],[-0.07,0.9],[-0.15,0.98],[-0.155,0.85],[-0.22,0.97],[-0.225,0.88],[-0.25,0.75],[-0.24,0.78],[-0.125,0.67],[-0.23,0.58],[-0.18,0.5],[-0.185,0.45],[-0.16,0.47],[-0.135,0.23],[-0.08,0.18],[-0.337,1.12],[-0.405,1.05],[-0.41,0.9],[-0.43,1.05],[-0.445,1.1],[-0.42,1.1],[-0.46,1.05],[-0.445,0.9],[-0.43,0.7],
[-0.02,2.2],[0.01,2.2],[-0.03,2.08],[0.0,2.0],[0.03,2.0],[-0.03,1.95],[-0.015,1.8],[0.01,1.7],[-0.05,1.6],[-0.02,1.6],[0.02,1.68],[-0.05,1.5],[-0.025,1.45],[0.0,1.45],[0.04,1.5],[-0.055,1.3],[-0.02,1.32],[0.01,1.32],[0.04,1.32],[-0.05,1.2],[-0.015,1.2],[0.005,1.2],[0.04,1.2],[0.07,1.2],[-0.045,1.1],[-0.02,1.1],[0.01,1.1],[0.04,1.08],[0.07,1.05],[-0.05,1.0],[-0.015,1.0],[0.01,1.0],[0.035,1.02],[-0.055,0.88],[-0.02,0.92],[0.01,0.9],[0.04,0.88],[-0.035,0.8],[-0.01,0.78],[0.02,0.78],[0.035,0.8],[-0.045,0.72],[-0.015,0.68],[0.015,0.68],[-0.035,0.62],[0.0,0.6],[0.03,0.6],[-0.04,0.55],[-0.01,0.52],[0.02,0.52],[-0.015,0.42],[0.015,0.42],[-0.08,1.3],[-0.075,1.2],[-0.085,1.1],[-0.07,1.0],[-0.09,1.45],[0.09,1.2],[0.085,1.05],[0.07,1.5],[0.06,1.55],[0.1,1.3],[0.05,0.75],[-0.01,0.2],[0.02,0.25]];

const e2f8Points: Pt[] = [[-0.68,1.38],[-0.64,0.05],[0.63,3.53],[0.515,3.33],[0.47,3.03],[0.52,2.88],[0.535,2.7],[0.445,2.44],[0.4,2.25],[0.32,2.38],[0.315,3.7],[0.225,3.75],[0.235,3.35],[0.275,3.4],[0.27,3.3],[0.27,3.15],[0.27,2.77],[0.275,2.65],[0.275,2.17],[0.225,2.43],[-0.02,4.38],[0.005,4.4],[0.01,4.3],[-0.17,4.37],[-0.315,4.32],[-0.03,3.95],[0.005,3.88],[0.01,3.8],[-0.05,3.82],[-0.03,3.8],[-0.175,3.58],[-0.16,3.6],[-0.115,3.53],[0.04,3.65],[0.03,3.55],[0.02,3.55],[0.06,3.37],[0.135,3.42],[0.15,3.33],[-0.33,3.23],[-0.28,2.83],[-0.25,2.87],[-0.245,2.92],[-0.22,3.0],[-0.19,2.97],[-0.185,2.88],[-0.43,2.78],[-0.42,2.78],[-0.385,2.77],[-0.33,2.63],[-0.3,2.6],[-0.6,2.4],[-0.6,2.22],[-0.5,2.45],[-0.52,2.07],[-0.455,1.95],[-0.42,2.0],[-0.4,2.1],[-0.42,1.43],[-0.42,1.22],[-0.375,1.6],[-0.32,1.13],[-0.105,0.65],[-0.12,0.35],[-0.09,0.4],[-0.005,0.28],[-0.005,0.5],[0.0,0.42],[0.005,0.55],[-0.01,0.65],[0.015,0.75],[0.02,0.72],[0.02,0.95],[0.005,1.0],[-0.01,1.05],[-0.04,0.87],[-0.045,1.03],[-0.04,1.2],[-0.105,1.17],[-0.075,1.2],[-0.01,1.25],[0.1,1.25],[0.12,1.03],[0.155,1.1],[0.06,1.25],[0.08,1.3],[0.03,1.27],[0.03,1.35],[0.04,1.45],[0.07,1.45],[0.11,3.05],[0.095,3.0],[0.17,3.0],[0.19,3.0],[0.135,2.88],[0.14,2.93],[0.115,2.75],[0.155,2.75],[0.175,2.85],[0.19,2.85],[0.195,2.7],[0.205,2.7],[0.15,2.55],[0.17,2.55],[0.14,2.55],[0.095,2.4],[0.135,2.4],[0.13,2.3],[0.14,2.25],[0.125,2.2],[0.115,2.2],[0.165,2.25],[0.18,2.25],[0.175,2.05],[0.145,2.0],[0.105,2.0],[0.115,1.95],[0.08,2.1],[0.08,2.0],[0.06,2.1],[0.05,1.82],[0.065,1.65],[0.06,1.45],[0.09,1.7],[0.105,1.7],[0.11,1.6],[0.115,1.75],[0.11,1.8],[-0.055,3.4],[-0.05,3.55],[-0.03,3.6],[-0.015,3.5],[0.01,3.45],[-0.07,3.4],[-0.06,3.35],[-0.04,3.3],[0.0,3.35],[0.03,3.35],[-0.02,3.2],[-0.01,3.1],[0.02,3.2],[0.05,3.2],[0.07,3.2],[0.08,3.1],[0.08,3.0],[-0.05,3.0],[-0.02,3.0],[0.0,3.0],[0.03,3.0],[0.06,2.9],[-0.06,2.85],[-0.035,2.9],[-0.01,2.88],[0.03,2.85],[0.05,2.8],[-0.06,2.7],[-0.02,2.75],[0,2.7],[0.03,2.65],[-0.07,2.6],[-0.04,2.6],[-0.02,2.6],[0.0,2.55],[0.02,2.55],[0.04,2.5],[0.06,2.5],[-0.03,2.4],[0.0,2.4],[0.03,2.4],[-0.02,2.3],[0.0,2.3],[0.02,2.3],[0.06,2.3],[-0.04,2.2],[-0.02,2.2],[0.01,2.2],[0.03,2.2],[0.05,2.25],[0.08,2.2],[-0.03,2.1],[-0.005,2.1],[0.02,2.1],[0.04,2.05],[-0.03,2.0],[0.0,2.0],[0.03,1.95],[-0.02,1.85],[0.01,1.85],[0.02,1.75],[-0.05,1.9],[-0.03,1.7],[-0.01,1.65],[0.01,1.55],[0.03,1.55],[-0.05,1.65],[-0.045,1.52],[-0.07,1.5],[-0.05,1.95],[-0.06,1.8],[-0.12,3.15],[-0.125,3.12],[-0.135,3.05],[-0.06,3.0],[-0.085,3.32],[-0.085,3.1],[-0.12,2.9],[-0.11,2.85],[-0.105,2.78],[-0.125,2.75],[-0.1,2.7],[-0.08,2.85],[-0.075,2.85],[-0.07,2.7],[-0.13,2.6],[-0.12,2.55],[-0.1,2.5],[-0.09,2.4],[-0.08,2.35],[-0.085,2.3],[-0.16,2.53],[-0.2,2.63],[-0.205,2.5],[-0.23,2.42],[-0.26,2.3],[-0.24,2.27],[-0.205,2.25],[-0.185,2.15],[-0.26,2.15],[-0.255,2.0],[-0.25,1.95],[-0.215,1.95],[-0.15,2.05],[-0.18,1.95],[-0.18,1.85],[-0.145,1.9],[-0.16,1.75],[-0.165,1.7],[-0.1,2.0],[-0.08,2.05],[-0.11,1.9],[-0.11,1.75],[-0.115,1.65],[-0.07,1.75],[-0.23,1.62],[-0.19,1.6],[-0.18,1.65],[-0.215,1.5],[-0.215,1.4],[-0.19,1.5],[-0.08,1.48],[-0.07,1.5],
[-0.04,3.2],[-0.02,3.3],[0.0,3.15],[0.02,3.1],[-0.03,3.1],[0.01,3.05],[-0.04,2.95],[-0.02,2.95],[0.01,2.95],[0.04,2.95],[-0.05,2.8],[-0.02,2.82],[0.01,2.8],[0.04,2.75],[-0.04,2.72],[0.0,2.65],[0.05,2.62],[-0.05,2.5],[-0.02,2.48],[0.0,2.48],[0.03,2.5],[-0.04,2.4],[-0.01,2.35],[0.02,2.42],[0.04,2.35],[-0.045,2.32],[-0.03,2.3],[0.01,2.32],[0.035,2.3],[-0.03,2.25],[0.0,2.25],[0.02,2.25],[0.04,2.25],[-0.04,2.15],[-0.015,2.15],[0.01,2.15],[0.03,2.13],[0.05,2.15],[-0.04,2.07],[-0.015,2.05],[0.01,2.05],[0.03,2.07],[-0.035,1.95],[-0.01,1.95],[0.015,1.98],[-0.03,1.85],[-0.005,1.8],[0.025,1.85],[-0.04,1.8],[0.005,1.72],[-0.02,1.68],[0.02,1.62],[0.0,1.45],[-0.01,1.55],[0.01,1.35]];

const geneNames = ["E2F1","E2F2","E2F3","E2F4","E2F5","E2F6","E2F7","E2F8"];
const subtitleA = "Cohort: GDC TCGA Stomach Cancer (STAD) (n=544)";
const subtitleB = "cohort: GDC TCGA Stomach Cancer (STAD) (n=544)";
const subtitleC = "cohort: GDC TCGA Stomach Cancer (STAD) (n=544";
const subtitles = [subtitleA,subtitleA,subtitleA,subtitleA,subtitleA,subtitleA,subtitleB,subtitleC];
const pearsonLabels = ["Pearson: 0.4717 (p = 4.164e-22)","Pearson: 0.3182 (p = 3.036e-10)","Pearson: 0.5585 (p = 4.854e-32)","Pearson: 0.5128 (p = 1.837e-26)","Pearson: 0.5304 (p = 1.647e-28)","Pearson: 0.4304 (p = 2.703e-18)","Pearson: 0.2128 (p = 0.00003345)","Pearson: 0.1615 (p = 0.001729)"];
const spearmanLabels = ["Spearman: 0.5028 (p = 2.418e-25)","Spearman: 0.2672 (p = 1.557e-7)","Spearman: 0.5131 (p = 1.695e-26)","Spearman: 0.4421 (p = 2.521e-19)","Spearman: 0.4900 (p = 5.580e-24)","Spearman: 0.4031 (p = 4.861e-16)","Spearman: 0.1921 (p = 0.0001863)","Spearman: 0.1042 (p = 0.04407)"];
const xLabelA = "Copy number - Copy Number Segment";
const xLabels = [xLabelA,xLabelA,xLabelA,xLabelA,xLabelA,"Gopy number - Copy Number Segment",xLabelA,xLabelA];
const unitLabel = "Unit: log2(copy-number/2)";
const allPoints = [e2f1Points,e2f2Points,e2f3Points,e2f4Points,e2f5Points,e2f6Points,e2f7Points,e2f8Points];

const xTickValues = [
  [-0.4,-0.2,0,0.2,0.4,0.6,0.8,1.0,1.2],
  [-0.6,-0.4,-0.2,0,0.2,0.4,0.6,0.8],
  [-0.5,-0.25,0,0.25,0.5,0.75,1.0,1.25,1.5],
  [-0.6,-0.5,-0.4,-0.3,-0.2,-0.1,0,0.1,0.2,0.3,0.4,0.5,0.6],
  [-0.4,-0.2,0,0.2,0.4,0.6,0.8,1.0,1.2],
  [-0.6,-0.4,-0.2,0,0.2,0.4,0.6,0.8],
  [-0.8,-0.6,-0.4,-0.2,0,0.2,0.4,0.6],
  [-0.6,-0.5,-0.4,-0.3,-0.2,-0.1,0,0.1,0.2,0.3,0.4,0.5,0.6],
];
const yTickValues = [
  [1,2,3,4,5,6],
  [0,1,2,3,4,5],
  [1,2,3,4],
  [3,3.5,4,4.5,5,5.5],
  [0.5,1,1.5,2,2.5,3,3.5],
  [1,1.5,2,2.5,3],
  [0,1,2,3,4],
  [0,1,2,3,4],
];
const xTickFormats = [".1f",".1f",".2f",".1f",".1f",".1f",".1f",".1f"];
const yTickFormats = ["d","d","d",".1f",".1f",".1f","d","d"];
const fitX = [[-0.517,1.183],[-0.72,0.882],[-0.704,1.419],[-0.656,0.654],[-0.527,1.217],[-0.783,0.788],[-0.95,0.618],[-0.68,0.633]];
const fitY = [[2.11,4.85],[0.945,2.986],[1.518,4.507],[3.72,5.449],[0.87,2.846],[1.0,2.611],[0.624,1.88],[1.889,2.896]];

// Pixel layout: [domain low tick, domain high tick, px low, px high]
const xMaps = [[-0.4,1.2,306,1483],[-0.6,0.8,1998,3080],[-0.5,1.5,330,1410],[-0.6,0.6,1982,3119],[-0.4,1.2,345,1451],[-0.6,0.8,2062,3161],[-0.8,0.6,343,1434],[-0.6,0.6,1974,3088]];
const yMaps = [[1,6,686,142],[0,5,713,188],[1,4,1581,1125],[3,5.5,1534,1114],[0.5,3.5,2509,1977],[1,3,2513,2031],[0,4,3423,2933],[0,4,3423,2948]];
const axisBoxes = [
  {left:196,right:1489,top:138,bottom:712,tickEnd:177,tickBase:772},
  {left:1881,right:3159,top:146,bottom:713,tickEnd:1867,tickBase:778},
  {left:196,right:1479,top:1048,bottom:1618,tickEnd:172,tickBase:1675},
  {left:1911,right:3189,top:1048,bottom:1616,tickEnd:1889,tickBase:1675},
  {left:223,right:1484,top:1958,bottom:2519,tickEnd:206,tickBase:2583},
  {left:1906,right:3178,top:1960,bottom:2525,tickEnd:1878,tickBase:2583},
  {left:201,right:1473,top:2858,bottom:3423,tickEnd:177,tickBase:3486},
  {left:1881,right:3143,top:2864,bottom:3424,tickEnd:1857,tickBase:3488},
];
const textBoxes = [
  {title:[729,873,46],sub:[236,1524,98],pear:[217,811,152],spear:[217,849,207],xl:[348,1254,817],ul:[472,1074,870],dot:[1482,537],leg:[1498,1656,551],y1:[83,850,45],y2:[347,483,94],y3:[215,623,139]},
  {title:[2441,2576,46],sub:[1924,3212,98],pear:[1905,2498,160],spear:[1905,2513,214],xl:[2021,2927,823],ul:[2154,2755,878],dot:[3150,531],leg:[3168,3319,545],y1:[86,853,1729],y2:[399,537,1774],y3:[213,620,1825]},
  {title:[729,879,947],sub:[246,1534,999],pear:[217,811,1064],spear:[217,849,1118],xl:[350,1256,1724],ul:[477,1077,1779],dot:[1480,1465],leg:[1496,1650,1474],y1:[960,1727,45],y2:[1233,1368,94],y3:[1118,1526,139]},
  {title:[2441,2593,947],sub:[1947,3236,999],pear:[1932,2524,1064],spear:[1932,2562,1118],xl:[2077,2984,1724],ul:[2204,2806,1779],dot:[3155,1459],leg:[3173,3324,1474],y1:[960,1727,1705],y2:[1262,1397,1754],y3:[1110,1518,1800]},
  {title:[729,879,1857],sub:[263,1552,1910],pear:[244,836,1975],spear:[244,875,2030],xl:[354,1259,2630],ul:[477,1077,2679],dot:[1482,2380],leg:[1498,1650,2395],y1:[1872,2642,45],y2:[2145,2280,86],y3:[2021,2429,126]},
  {title:[2441,2593,1859],sub:[1953,3242,1910],pear:[1932,2524,1975],spear:[1932,2562,2030],xl:[2108,3015,2630],ul:[2241,2842,2679],dot:[3158,2380],leg:[3175,3327,2395],y1:[1869,2637,1694],y2:[2145,2281,1740],y3:[2024,2432,1788]},
  {title:[729,879,2759],sub:[268,1550,2810],pear:[225,850,2872],spear:[225,866,2928],xl:[348,1254,3533],ul:[472,1074,3585],dot:[1482,3282],leg:[1498,1650,3296],y1:[2772,3542,45],y2:[3056,3191,94],y3:[2921,3329,139]},
  {title:[2441,2593,2765],sub:[1940,3204,2815],pear:[1912,2492,2872],spear:[1912,2507,2928],xl:[2037,2941,3533],ul:[2324,2925,3585],dot:[3157,3278],leg:[3175,3327,3293],y1:[2783,3551,1722],y2:[3053,3191,1770],y3:[2913,3320,1819]},
];

const FONT = '"Liberation Sans", Arial, sans-serif';
const DOT = "#8fb6e3";
const DOT_FIRST = "#9db2dc";
const RED = "#e8141c";

function Fit({a,b,base,size,weight,children}: {a:number;b:number;base:number;size:number;weight?:string;children:string}) {
  return <text x={a} y={base} fontSize={size} fontWeight={weight||"normal"} textLength={b-a} lengthAdjust="spacingAndGlyphs">{children}</text>;
}
function Rot({a,b,base,size,children}: {a:number;b:number;base:number;size:number;children:string}) {
  return <text transform={`translate(${base},${b}) rotate(-90)`} fontSize={size} textLength={b-a} lengthAdjust="spacingAndGlyphs">{children}</text>;
}

function Panel({i}: {i:number}) {
  const xm = xMaps[i], ym = yMaps[i], box = axisBoxes[i], t = textBoxes[i];
  const x = d3.scaleLinear().domain([xm[0],xm[1]]).range([xm[2],xm[3]]);
  const y = d3.scaleLinear().domain([ym[0],ym[1]]).range([ym[2],ym[3]]);
  const fx = d3.format(xTickFormats[i]), fy = d3.format(yTickFormats[i]);
  const fix = (s:string) => s.replace("\u2212","-");
  const fitLine = d3.line<number>().x(v=>x(v)).y((_,k)=>y(fitY[i][k]));
  return (
    <g fontFamily={FONT} fill="#000">
      <path d={fitLine(fitX[i]) as string} stroke={RED} strokeWidth={15} strokeLinecap="round" fill="none"/>
      {allPoints[i].map((p,k)=>(
        <ellipse key={k} cx={x(p[0])} cy={y(p[1])} rx={11.5} ry={11} fill={i===0?DOT_FIRST:DOT}/>
      ))}
      <rect x={box.left-6} y={box.top} width={11} height={box.bottom-box.top+4} fill="#000"/>
      <rect x={box.left-6} y={box.bottom-5} width={box.right-box.left+6} height={11} fill="#000"/>
      {xTickValues[i].map(v=>(
        <g key={v}>
          <rect x={x(v)-5} y={box.bottom} width={10} height={14} fill="#000"/>
          <text x={x(v)+1} y={box.tickBase} fontSize={52} textAnchor="middle">{fix(fx(v))}</text>
        </g>
      ))}
      {yTickValues[i].map(v=>(
        <g key={v}>
          <rect x={box.left-14} y={y(v)-5} width={10} height={10} fill="#000"/>
          <text x={box.tickEnd} y={y(v)+21} fontSize={52} textAnchor="end">{fix(fy(v))}</text>
        </g>
      ))}
      <Fit a={t.title[0]} b={t.title[1]} base={t.title[2]} size={60} weight="bold">{geneNames[i]}</Fit>
      <Fit a={t.sub[0]} b={t.sub[1]} base={t.sub[2]} size={50} weight="bold">{subtitles[i]}</Fit>
      <Fit a={t.pear[0]} b={t.pear[1]} base={t.pear[2]} size={44}>{pearsonLabels[i]}</Fit>
      <Fit a={t.spear[0]} b={t.spear[1]} base={t.spear[2]} size={44}>{spearmanLabels[i]}</Fit>
      <Fit a={t.xl[0]} b={t.xl[1]} base={t.xl[2]} size={50}>{xLabels[i]}</Fit>
      <Fit a={t.ul[0]} b={t.ul[1]} base={t.ul[2]} size={50}>{unitLabel}</Fit>
      <ellipse cx={t.dot[0]} cy={t.dot[1]} rx={11.5} ry={11} fill={DOT}/>
      <Fit a={t.leg[0]} b={t.leg[1]} base={t.leg[2]} size={50}>sample</Fit>
      <Rot a={t.y1[0]} b={t.y1[1]} base={t.y1[2]} size={56}>GeneexpressionRNAseq-HTSeq-</Rot>
      <Rot a={t.y2[0]} b={t.y2[1]} base={t.y2[2]} size={56}>FPKM</Rot>
      <Rot a={t.y3[0]} b={t.y3[1]} base={t.y3[2]} size={56}>Unit:log2(fpkm+1)</Rot>
    </g>
  );
}

export default function App() {
  return (
    <svg width={3327} height={3601} viewBox="0 0 3327 3601" style={{position:"absolute",left:0,top:0,background:"#fff"}}>
      {geneNames.map((_,i)=><Panel key={i} i={i}/>)}
    </svg>
  );
}
